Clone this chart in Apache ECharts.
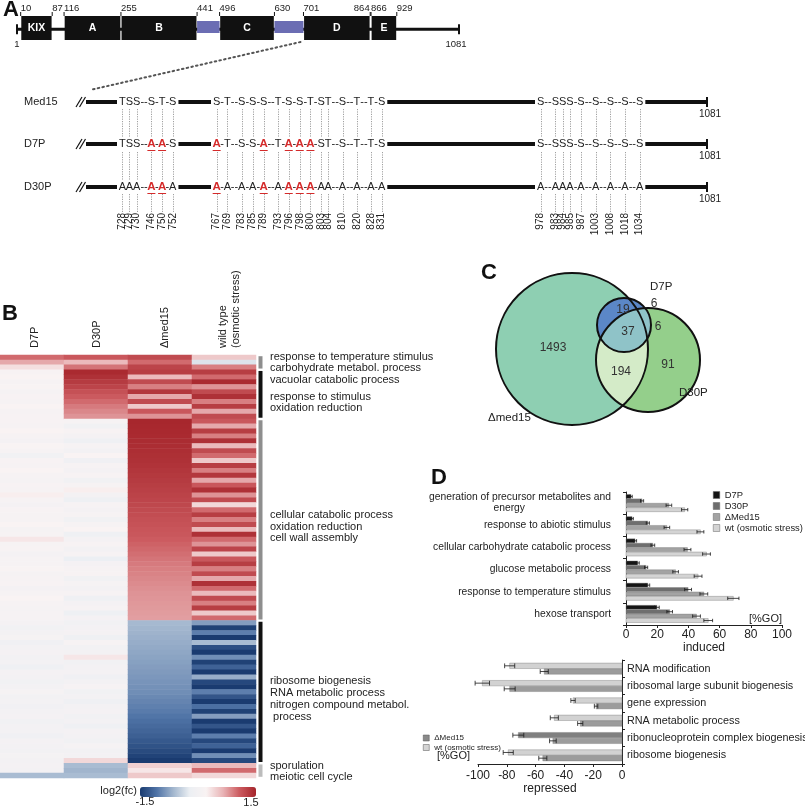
<!DOCTYPE html>
<html>
<head>
<meta charset="utf-8">
<script src="https://cdn.jsdelivr.net/npm/echarts@6/dist/echarts.min.js"></script>
<style>
html,body{margin:0;padding:0;background:#ffffff;}
#chart{width:805px;height:807px;}
</style>
</head>
<body>
<div id="chart"></div>
<script>
// ================= DATA =================
// Panel A: Med15 domain map
const proteinLength = 1081;
const domainNames    = ['KIX', 'A', 'B', '', 'C', '', 'D', 'E'];
const domainStart    = [10, 116, 255, 441, 496, 630, 701, 866];
const domainEnd      = [87, 255, 441, 496, 630, 701, 864, 929];
const domainIsLinker = [0, 0, 0, 1, 0, 1, 0, 0];
const boundaryTicks  = [10, 87, 116, 255, 441, 496, 630, 701, 864, 866, 929];
const zoomedDomainStart = 701;

// Panel A: phosphosite sequences
const seqRowNames = ['Med15', 'D7P', 'D30P'];
const seqMed15 = ['TSS--S-T-S', 'S-T--S-S-S--T-S-S-T-ST--S--T--T-S', 'S--SSS-S--S--S--S--S'];
const seqD7P   = ['TSS--A-A-S', 'A-T--S-S-A--T-A-A-A-ST--S--T--T-S', 'S--SSS-S--S--S--S--S'];
const seqD30P  = ['AAA--A-A-A', 'A-A--A-A-A--A-A-A-A-AA--A--A--A-A', 'A--AAA-A--A--A--A--A'];
const siteNumbers = [
  [728, 729, 730, 746, 750, 752],
  [767, 769, 783, 785, 789, 793, 796, 798, 800, 803, 804, 810, 820, 828, 831],
  [978, 983, 984, 985, 987, 1003, 1008, 1018, 1034]
];
const highlightedSites = [746, 750, 767, 789, 796, 798, 800];

// Panel B: heatmap (rows top -> bottom), log2 fold change
const heatColumns = ['D7P', 'D30P', 'Δmed15', 'wild type (osmotic stress)'];
const heatD7P = [
  1.0, 0.7, 0.35,
  0.15, 0.2, 0.1, 0.18, 0.08, 0.15, 0.12, 0.2, 0.1, 0.15,
  0.15, 0.1, 0.2, 0.12, 0.05, 0.18, 0.1, -0.05, 0.15, 0.1,
  0.2, 0.12, 0.08, 0.15, 0.1, 0.25, 0.1, 0.05, 0.15, 0.12,
  0.1, 0.2, 0.08, 0.12, 0.3, 0.1, 0.15, 0.05, 0.12, 0.1,
  0.18, 0.08, 0.1, 0.15, 0.05, 0.1, 0.2, 0.1, 0.08, 0.12,
  0.1,
  0.05, -0.05, 0.0, 0.08, -0.08, 0.02, 0.05, -0.03, 0.0, -0.1,
  0.05, 0.02, -0.05, 0.0, 0.08, -0.02, 0.03, -0.06, 0.0, 0.05,
  -0.04, 0.02, 0.0, -0.08, 0.05, 0.0, -0.03, 0.06, 0.0,
  0.05, 0.0, -0.6
];
const heatD30P = [
  1.1, 0.6, 0.95,
  1.45, 1.4, 1.32, 1.25, 1.15, 1.08, 1.0, 0.92, 0.86, 0.8,
  0.1, -0.05, 0.15, 0.05, -0.1, 0.12, 0.0, 0.2, -0.08, 0.1,
  0.05, 0.15, -0.05, 0.1, 0.25, 0.0, -0.15, 0.1, 0.05, 0.12,
  -0.05, 0.1, 0.2, -0.1, 0.05, 0.15, 0.0, 0.1, -0.2, 0.05,
  0.1, 0.15, -0.05, 0.08, 0.0, 0.12, -0.1, 0.05, 0.1, -0.15,
  0.05,
  -0.05, 0.0, 0.05, -0.1, 0.1, -0.03, 0.0, 0.3, -0.05, 0.02,
  0.05, -0.08, 0.0, 0.1, -0.05, 0.03, -0.1, 0.0, 0.05, -0.05,
  0.02, -0.1, 0.05, 0.0, -0.05, 0.08, -0.03, 0.0, 0.4,
  -0.6, -0.65, -0.6
];
const heatMed15 = [
  1.2, 1.0, 1.25,
  1.3, 0.6, 1.2, 0.9, 1.35, 0.7, 1.2, 0.5, 1.1, 0.8,
  1.48, 1.47, 1.46, 1.45, 1.44, 1.43, 1.42, 1.41, 1.40, 1.38,
  1.36, 1.34, 1.32, 1.30, 1.28, 1.26, 1.24, 1.22, 1.20, 1.18,
  1.16, 1.14, 1.12, 1.10, 1.07, 1.04, 1.01, 0.98, 0.95, 0.92,
  0.90, 0.88, 0.86, 0.84, 0.82, 0.80, 0.79, 0.78, 0.77, 0.76,
  0.75,
  -0.62, -0.64, -0.66, -0.68, -0.7, -0.72, -0.74, -0.76, -0.78, -0.8,
  -0.82, -0.84, -0.86, -0.88, -0.9, -0.93, -0.96, -0.99, -1.02, -1.06,
  -1.1, -1.14, -1.18, -1.22, -1.27, -1.32, -1.38, -1.44, -1.5,
  0.45, 0.3, 0.5
];
const heatWT = [
  0.5, -0.3, 0.9,
  1.3, 1.0, 1.45, 0.8, 1.2, 1.4, 0.9, 1.3, 0.7, 1.2,
  1.1, 0.7, 1.3, 0.9, 1.4, 0.6, 1.2, 1.0, 0.5, 1.3,
  0.9, 1.35, 0.7, 1.1, 1.4, 0.8, 1.2, 0.4, 1.0, 1.3,
  0.9, 1.2, 0.6, 1.4, 1.0, 0.8, 1.25, 0.5, 1.1, 1.3,
  0.9, 1.2, 0.7, 1.4, 1.0, 0.6, 1.2, 0.9, 1.3, 0.5,
  1.0,
  -0.8, -1.45, -1.0, -1.5, -0.6, -1.35, -1.5, -0.9, -1.45, -1.2,
  -1.5, -0.7, -1.4, -1.5, -1.0, -1.3, -1.5, -1.1, -1.45, -0.8,
  -1.5, -1.3, -1.5, -1.0, -1.4, -1.2, -1.5, -0.9, -1.4,
  0.6, 1.0, 0.4
];
const clusterSizes = [3, 10, 41, 29, 3];
const clusterTerms = [
  ['response to temperature stimulus'],
  ['carbohydrate metabol. process', 'vacuolar catabolic process', 'response to stimulus', 'oxidation reduction'],
  ['cellular catabolic process', 'oxidation reduction', 'cell wall assembly'],
  ['ribosome biogenesis', 'RNA metabolic process', 'nitrogen compound metabol.', ' process'],
  ['sporulation', 'meiotic cell cycle']
];
const colorScaleMin = -1.5, colorScaleMax = 1.5;

// Panel C: Venn counts
const vennSetNames = ['Δmed15', 'D7P', 'D30P'];
const vennCounts = {med15Only: 1493, d7pMed15: 19, all3: 37, d7pOnly: 6, d7pD30p: 6, d30pMed15: 194, d30pOnly: 91};

// Panel D: GO enrichment (%GO)
const inducedCategories = ['generation of precursor metabolites and energy', 'response to abiotic stimulus',
  'cellular carbohydrate catabolic process', 'glucose metabolic process', 'response to temperature stimulus', 'hexose transport'];
const inducedD7P      = [3.2, 3.9, 5.8, 7.5, 14.0, 19.8];
const inducedD7PErr   = [0.8, 0.8, 1.0, 1.0, 1.2, 1.5];
const inducedD30P     = [10.3, 14.0, 17.2, 12.9, 39.8, 28.0];
const inducedD30PErr  = [1.0, 1.0, 1.2, 1.0, 2.2, 1.8];
const inducedMed15    = [27.5, 26.2, 39.4, 31.8, 49.9, 45.2];
const inducedMed15Err = [1.8, 1.8, 2.2, 1.8, 2.5, 2.5];
const inducedWT       = [37.6, 47.7, 51.6, 46.2, 68.8, 52.7];
const inducedWTErr    = [2.0, 2.2, 2.5, 2.5, 3.6, 2.8];

const repressedCategories = ['RNA modification', 'ribosomal large subunit biogenesis', 'gene expression',
  'RNA metabolic process', 'ribonucleoprotein complex biogenesis', 'ribosome biogenesis'];
const repressedWT       = [-78, -97, -34, -47, -72, -79];
const repressedWTErr    = [3.5, 5.0, 1.5, 2.8, 3.8, 3.5];
const repressedMed15    = [-54, -78, -18, -29, -48, -55];
const repressedMed15Err = [2.8, 3.8, 1.2, 1.8, 2.3, 2.8];

const xTicksInduced = [0, 100, 20];      // min, max, step
const xTicksRepressed = [-100, 0, 20];

// ================= LAYOUT / STYLE =================
const FONT = '"Liberation Sans", Arial, Helvetica, sans-serif';
const INK = '#222222';
const chart = echarts.init(document.getElementById('chart'), null, {renderer: 'canvas', width: 805, height: 807});

function T(text, x, y, o) {
  o = o || {};
  return {type: 'text', x: x, y: y, rotation: o.rotation || 0, z: o.z || 100, silent: true,
    style: {text: text, fill: o.color || INK, fontSize: o.size || 11, fontFamily: FONT,
      fontWeight: o.weight || 'normal', align: o.align || 'left', verticalAlign: o.va || 'middle'}};
}
function L(x1, y1, x2, y2, o) {
  o = o || {};
  return {type: 'line', silent: true, z: o.z || 50, shape: {x1: x1, y1: y1, x2: x2, y2: y2},
    style: {stroke: o.color || '#111', lineWidth: o.w || 1, lineDash: o.dash || null, lineCap: o.cap || 'butt'}};
}

// ---------- heatmap data ----------
const heatCols = [heatD7P, heatD30P, heatMed15, heatWT];
const heatData = [];
heatCols.forEach((col, c) => col.forEach((v, r) => heatData.push([c, r, v])));
const rowLabels = heatD7P.map((_, i) => String(i));
const clusterData = [];
{ let s = 0; clusterSizes.forEach((n, i) => { clusterData.push([s, s + n - 1, i]); s += n; }); }
const clusterColors = ['#8e8e8e', '#111111', '#8e8e8e', '#111111', '#bcbcbc'];

// ---------- custom bar series ----------
function barSeries(name, gi, vals, errs, offset, h, color, colorAt) {
  return {
    type: 'custom', name: name, xAxisIndex: gi, yAxisIndex: gi, z: 5, silent: true,
    itemStyle: {color: color},
    encode: {x: 0, y: 1},
    data: vals.map((v, i) => [v, i, errs[i]]),
    renderItem: function (params, api) {
      const v = api.value(0), c = api.value(1), e = api.value(2);
      const p0 = api.coord([0, c]), p1 = api.coord([v, c]);
      const y = p0[1] + offset;
      const l = api.coord([v - e, c])[0], r = api.coord([v + e, c])[0];
      const fill = (colorAt && colorAt[c]) || color;
      const st = {stroke: '#1a1a1a', lineWidth: 0.8};
      return {type: 'group', children: [
        {type: 'rect', shape: {x: Math.min(p0[0], p1[0]), y: y - h / 2, width: Math.abs(p1[0] - p0[0]), height: h},
          style: {fill: fill, stroke: '#7a7a7a', lineWidth: 0.4}},
        {type: 'line', shape: {x1: l, y1: y, x2: r, y2: y}, style: st},
        {type: 'line', shape: {x1: l, y1: y - h / 2 + 0.3, x2: l, y2: y + h / 2 - 0.3}, style: st},
        {type: 'line', shape: {x1: r, y1: y - h / 2 + 0.3, x2: r, y2: y + h / 2 - 0.3}, style: st}
      ]};
    }
  };
}
const upOff = [-6.6, -2.2, 2.2, 6.6], upH = 4.0;
const dnOff = [-2.85, 2.85], dnH = 5.4;
const colD7P = '#151515', colD30P = '#6e6e6e', colMed15 = '#a3a3a3', colWT = '#d4d4d4';
const repressedWTColorAt = [null, null, null, null, '#808080', null];

const axisLineStyle = {color: INK, width: 1};

const option = {
  animation: false,
  backgroundColor: '#ffffff',
  textStyle: {fontFamily: FONT},
  grid: [
    {left: 17, top: 16, width: 442, height: 24, outerBoundsMode: 'none', containLabel: false},
    {left: 0, top: 355, width: 256, height: 423, outerBoundsMode: 'none', containLabel: false},
    {left: 626, top: 492, width: 156, height: 133, outerBoundsMode: 'none', containLabel: false},
    {left: 478, top: 660, width: 144, height: 104, outerBoundsMode: 'none', containLabel: false}
  ],
  xAxis: [
    {type: 'value', gridIndex: 0, min: 1, max: proteinLength, show: false},
    {type: 'category', gridIndex: 1, data: heatColumns, show: false},
    {type: 'value', gridIndex: 2, min: xTicksInduced[0], max: xTicksInduced[1], interval: xTicksInduced[2],
      axisLine: {show: true, lineStyle: axisLineStyle}, axisTick: {show: true, length: 3, lineStyle: axisLineStyle},
      splitLine: {show: false}, axisLabel: {fontSize: 12, color: INK, margin: 4, fontFamily: FONT},
      name: 'induced', nameLocation: 'middle', nameGap: 16, nameTextStyle: {fontSize: 12, color: INK, fontFamily: FONT}},
    {type: 'value', gridIndex: 3, min: xTicksRepressed[0], max: xTicksRepressed[1], interval: xTicksRepressed[2],
      axisLine: {show: true, lineStyle: axisLineStyle}, axisTick: {show: true, length: 3, lineStyle: axisLineStyle},
      splitLine: {show: false}, axisLabel: {fontSize: 12, color: INK, margin: 6, fontFamily: FONT},
      name: 'repressed', nameLocation: 'middle', nameGap: 17, nameTextStyle: {fontSize: 12, color: INK, fontFamily: FONT}}
  ],
  yAxis: [
    {type: 'value', gridIndex: 0, min: 0, max: 1, show: false},
    {type: 'category', gridIndex: 1, data: rowLabels, inverse: true, show: false},
    {type: 'category', gridIndex: 2, data: inducedCategories, inverse: true,
      axisLine: {show: true, lineStyle: axisLineStyle}, axisTick: {show: true, length: 3, lineStyle: axisLineStyle},
      splitLine: {show: false},
      axisLabel: {interval: 0, fontSize: 10.3, color: INK, margin: 15, lineHeight: 11, fontFamily: FONT,
        formatter: function (v, i) { return i === 0 ? '{a|generation of precursor metabolites and}\n{b|energy}' : v; },
        rich: {a: {fontSize: 10.3, color: INK, lineHeight: 11, fontFamily: FONT},
               b: {fontSize: 10.3, color: INK, lineHeight: 11, fontFamily: FONT, padding: [0, 86, 0, 0]}}}},
    {type: 'category', gridIndex: 3, data: repressedCategories, inverse: true, position: 'right',
      axisLine: {show: true, lineStyle: axisLineStyle}, axisTick: {show: true, length: 3, lineStyle: axisLineStyle},
      splitLine: {show: false},
      axisLabel: {interval: 0, fontSize: 10.8, color: INK, margin: 5, fontFamily: FONT}}
  ],
  visualMap: {
    type: 'continuous', min: colorScaleMin, max: colorScaleMax, seriesIndex: 3, orient: 'horizontal',
    left: 140, top: 787, itemWidth: 10, itemHeight: 116, calculable: false, padding: 0, text: null,
    inRange: {color: ['#1a3b70', '#4f73a6', '#a2b6ce', '#eceff3', '#f9f3f3', '#e9b4b6', '#cc5b60', '#a5242a']}
  },
  legend: [
    {data: ['D7P', 'D30P', 'ΔMed15', 'wt (osmotic stress)'], orient: 'vertical', left: 713, top: 490, padding: 0,
      itemWidth: 6.5, itemHeight: 7, itemGap: 1, icon: 'rect', selectedMode: false,
      itemStyle: {borderColor: '#666', borderWidth: 0.5},
      textStyle: {fontSize: 9.4, color: INK, lineHeight: 10, fontFamily: FONT}},
    {data: [{name: 'ΔMed15', itemStyle: {color: '#8a8a8a', borderColor: '#555', borderWidth: 0.5}},
            {name: 'wt (osmotic stress)', itemStyle: {color: '#d4d4d4', borderColor: '#555', borderWidth: 0.5}}],
      orient: 'vertical', left: 423, top: 734, padding: 0, itemWidth: 6, itemHeight: 6, itemGap: 1.5, icon: 'rect',
      selectedMode: false, textStyle: {fontSize: 8, color: INK, lineHeight: 7, fontFamily: FONT}}
  ],
  series: [
    // 0: backbone
    {type: 'custom', xAxisIndex: 0, yAxisIndex: 0, silent: true, z: 1, data: [[1, proteinLength]],
      renderItem: function (params, api) {
        const a = api.coord([api.value(0), 0.45]), b = api.coord([api.value(1), 0.45]);
        return {type: 'group', children: [
          {type: 'rect', shape: {x: a[0], y: a[1] - 1.5, width: b[0] - a[0], height: 3}, style: {fill: '#111'}},
          {type: 'line', shape: {x1: a[0], y1: a[1] - 5, x2: a[0], y2: a[1] + 5}, style: {stroke: '#111', lineWidth: 2}},
          {type: 'line', shape: {x1: b[0], y1: a[1] - 5, x2: b[0], y2: a[1] + 5}, style: {stroke: '#111', lineWidth: 2}},
          {type: 'text', x: a[0], y: a[1] + 15, style: {text: String(api.value(0)), fill: INK, fontSize: 9.5, fontFamily: FONT, align: 'center', verticalAlign: 'middle'}},
          {type: 'text', x: b[0] - 3, y: a[1] + 15, style: {text: String(api.value(1)), fill: INK, fontSize: 9.5, fontFamily: FONT, align: 'center', verticalAlign: 'middle'}}
        ]};
      }},
    // 1: domains
    {type: 'custom', xAxisIndex: 0, yAxisIndex: 0, silent: true, z: 2,
      data: domainStart.map((s, i) => [s, domainEnd[i], domainIsLinker[i], i]),
      renderItem: function (params, api) {
        const s = api.value(0), e = api.value(1), linker = api.value(2), idx = api.value(3);
        const a = api.coord([s, 1]), b = api.coord([e, 0]);
        const top = a[1], bot = b[1];
        if (linker) {
          const hh = (bot - top) * 0.5;
          return {type: 'rect', shape: {x: a[0], y: (top + bot) / 2 - hh / 2 - 1, width: b[0] - a[0], height: hh}, style: {fill: '#6b6db3'}};
        }
        return {type: 'group', children: [
          {type: 'rect', shape: {x: a[0] + 0.6, y: top, width: b[0] - a[0] - 1.2, height: bot - top}, style: {fill: '#111'}},
          {type: 'text', x: (a[0] + b[0]) / 2, y: (top + bot) / 2, style: {text: domainNames[idx], fill: '#fff', fontSize: 10.5, fontWeight: 'bold', fontFamily: FONT, align: 'center', verticalAlign: 'middle'}}
        ]};
      }},
    // 2: boundary numbers
    {type: 'custom', xAxisIndex: 0, yAxisIndex: 0, silent: true, z: 3,
      data: boundaryTicks.map((v, i) => [v, i]),
      renderItem: function (params, api) {
        const v = api.value(0), i = api.value(1);
        const p = api.coord([v, 1]);
        let align = 'left';
        if (i + 1 < boundaryTicks.length && boundaryTicks[i + 1] - v < 6) align = 'right';
        const dx = align === 'right' ? -0.5 : 0;
        return {type: 'group', children: [
          {type: 'line', shape: {x1: p[0], y1: p[1] - 4, x2: p[0], y2: p[1]}, style: {stroke: '#111', lineWidth: 1}},
          {type: 'text', x: p[0] + dx, y: p[1] - 8, style: {text: String(v), fill: INK, fontSize: 9.5, fontFamily: FONT, align: align, verticalAlign: 'middle'}}
        ]};
      }},
    // 3: heatmap
    {type: 'heatmap', xAxisIndex: 1, yAxisIndex: 1, data: heatData, silent: true,
      itemStyle: {borderWidth: 0}, emphasis: {disabled: true}, progressive: 0},
    // 4: cluster bars
    {type: 'custom', xAxisIndex: 1, yAxisIndex: 1, silent: true, z: 3, clip: false,
      data: clusterData,
      renderItem: function (params, api) {
        const s = api.value(0), e = api.value(1), k = api.value(2);
        const a = api.coord([3, s]), b = api.coord([3, e]), sz = api.size([1, 1]);
        const top = a[1] - sz[1] / 2 + 1.2, bot = b[1] + sz[1] / 2 - 1.2;
        return {type: 'rect', shape: {x: a[0] + sz[0] / 2 + 2.5, y: top, width: 4, height: bot - top}, style: {fill: clusterColors[k]}};
      }},
    // 5-8 induced bars
    barSeries('D7P', 2, inducedD7P, inducedD7PErr, upOff[0], upH, colD7P),
    barSeries('D30P', 2, inducedD30P, inducedD30PErr, upOff[1], upH, colD30P),
    barSeries('ΔMed15', 2, inducedMed15, inducedMed15Err, upOff[2], upH, colMed15),
    barSeries('wt (osmotic stress)', 2, inducedWT, inducedWTErr, upOff[3], upH, colWT),
    // 9-10 repressed bars
    barSeries('wt (osmotic stress)', 3, repressedWT, repressedWTErr, dnOff[0], dnH, '#d2d2d2', repressedWTColorAt),
    barSeries('ΔMed15', 3, repressedMed15, repressedMed15Err, dnOff[1], dnH, '#9c9c9c')
  ]
};
chart.setOption(option);

// ================= GRAPHIC LAYER =================
const g = [];
// panel letters
g.push(T('A', 3, 10, {size: 22, weight: 'bold', color: '#111'}));
g.push(T('B', 2, 314, {size: 22, weight: 'bold', color: '#111'}));
g.push(T('C', 481, 273, {size: 22, weight: 'bold', color: '#111'}));
g.push(T('D', 431, 478, {size: 22, weight: 'bold', color: '#111'}));

// ---- Panel A sequences ----
const mctx = document.createElement('canvas').getContext('2d');
const SEQ_SIZE = 11;
mctx.font = SEQ_SIZE + 'px ' + FONT;
const groupStartX = [119, 213, 537];
const rowY = [102, 144, 187];
const lineStartX = 86, lineEndX = 707, numTopY = 213;
const seqRows = [seqMed15, seqD7P, seqD30P];
const groupExt = [], charCenters = [], letterIdx = [];
seqMed15.forEach((s, gi) => {
  let x = groupStartX[gi]; const cs = [], li = [];
  for (let i = 0; i < s.length; i++) {
    const w = mctx.measureText(s[i]).width;
    cs.push(x + w / 2); x += w;
    if (s[i] !== '-') li.push(i);
  }
  groupExt.push([groupStartX[gi], x]); charCenters.push(cs); letterIdx.push(li);
});
seqRowNames.forEach((n, r) => g.push(T(n, 24, rowY[r], {size: 11})));
// thick lines + break marks + ends
rowY.forEach((y) => {
  const segs = [[lineStartX, groupExt[0][0] - 2], [groupExt[0][1] + 2, groupExt[1][0] - 2],
                [groupExt[1][1] + 2, groupExt[2][0] - 2], [groupExt[2][1] + 2, lineEndX]];
  segs.forEach(sg => g.push(L(sg[0], y, sg[1], y, {w: 4, color: '#111'})));
  g.push(L(lineEndX, y - 5, lineEndX, y + 5, {w: 2}));
  g.push(T(String(proteinLength), lineEndX + 3, y + 12, {size: 10, align: 'center'}));
  g.push(L(76, y + 5, 82, y - 5, {w: 1.2}));
  g.push(L(79.5, y + 5, 85.5, y - 5, {w: 1.2}));
});
// letters
seqRows.forEach((rowSeq, r) => {
  rowSeq.forEach((s, gi) => {
    let li = 0;
    for (let i = 0; i < s.length; i++) {
      const ch = s[i], x = charCenters[gi][i];
      if (ch === '-') { g.push(T('-', x, rowY[r], {size: SEQ_SIZE, align: 'center'})); continue; }
      const site = siteNumbers[gi][li]; li++;
      const hl = r > 0 && highlightedSites.indexOf(site) >= 0;
      if (hl) {
        g.push(T(ch, x, rowY[r], {size: SEQ_SIZE + 0.5, align: 'center', color: '#d42a2a', weight: 'bold'}));
        g.push(L(x - 4, rowY[r] + 6.5, x + 4, rowY[r] + 6.5, {color: '#d42a2a', w: 1}));
      } else {
        g.push(T(ch, x, rowY[r], {size: SEQ_SIZE, align: 'center'}));
      }
    }
  });
});
// dotted connectors + residue numbers
letterIdx.forEach((li, gi) => {
  li.forEach((ci, k) => {
    const x = Math.round(charCenters[gi][ci]) + 0.5;
    const dot = {color: '#777', w: 0.7, dash: [1.2, 1.2], z: 40};
    g.push(L(x, rowY[0] + 7, x, rowY[1] - 7, dot));
    g.push(L(x, rowY[1] + 8, x, rowY[2] - 7, dot));
    g.push(L(x, rowY[2] + 7, x, numTopY - 1, dot));
    g.push(T(String(siteNumbers[gi][k]), charCenters[gi][ci], numTopY, {size: 10, rotation: Math.PI / 2, align: 'right'}));
  });
});
// dotted zoom line from domain D to sequence rows
const dX = chart.convertToPixel({xAxisIndex: 0}, zoomedDomainStart);
g.push(L(dX - 3, 42, 90, 90, {color: '#555', w: 2, dash: [1.6, 3.2], cap: 'round'}));

// ---- Panel B labels ----
const heatHeaderX = [35, 97, 165];
g.push(T(heatColumns[0], heatHeaderX[0], 348, {rotation: Math.PI / 2}));
g.push(T(heatColumns[1], heatHeaderX[1], 348, {rotation: Math.PI / 2}));
g.push(T(heatColumns[2], heatHeaderX[2], 348, {rotation: Math.PI / 2}));
g.push(T('wild type', 223, 348, {rotation: Math.PI / 2}));
g.push(T('(osmotic stress)', 236, 348, {rotation: Math.PI / 2}));
const clusterLabelY = [[357], [368, 380, 397, 408], [515, 527, 538], [681, 693, 705, 717], [766, 777]];
clusterTerms.forEach((terms, k) => terms.forEach((t, j) => g.push(T(t, 270, clusterLabelY[k][j], {size: 11}))));
g.push(T('log2(fc)', 137, 791, {size: 11, align: 'right'}));
g.push(T(String(colorScaleMin), 145, 802, {size: 11, align: 'center'}));
g.push(T(String(colorScaleMax), 251, 803, {size: 11, align: 'center'}));

// ---- Panel C Venn ----
const vBig = {cx: 572, cy: 349, r: 76}, vD30 = {cx: 648, cy: 360, r: 52}, vD7 = {cx: 624, cy: 325, r: 27};
function lens(A, B, n) {
  n = n || 60;
  const dx = B.cx - A.cx, dy = B.cy - A.cy, d = Math.hypot(dx, dy), th = Math.atan2(dy, dx);
  const a1 = Math.acos((d * d + A.r * A.r - B.r * B.r) / (2 * d * A.r));
  const a2 = Math.acos((d * d + B.r * B.r - A.r * A.r) / (2 * d * B.r));
  const pts = [];
  for (let i = 0; i <= n; i++) { const t = th - a1 + 2 * a1 * i / n; pts.push([A.cx + A.r * Math.cos(t), A.cy + A.r * Math.sin(t)]); }
  for (let i = 0; i <= n; i++) { const t = th + Math.PI - a2 + 2 * a2 * i / n; pts.push([B.cx + B.r * Math.cos(t), B.cy + B.r * Math.sin(t)]); }
  return pts;
}
function circ(c, fill, z) { return {type: 'circle', silent: true, z: z, shape: {cx: c.cx, cy: c.cy, r: c.r}, style: {fill: fill, stroke: null}}; }
function ring(c, z) { return {type: 'circle', silent: true, z: z, shape: {cx: c.cx, cy: c.cy, r: c.r}, style: {fill: null, stroke: '#111', lineWidth: 2}}; }
g.push(circ(vBig, '#8ecfb2', 10));
g.push(circ(vD30, '#94cf8b', 11));
g.push({type: 'polygon', silent: true, z: 12, shape: {points: lens(vBig, vD30)}, style: {fill: '#d4ebc8'}});
g.push(circ(vD7, '#5b87c7', 13));
g.push({type: 'polygon', silent: true, z: 14, shape: {points: lens(vD7, vD30)}, style: {fill: '#8fc3c8'}});
g.push(ring(vBig, 15)); g.push(ring(vD30, 15)); g.push(ring(vD7, 15));
const vc = '#333';
g.push(T(String(vennCounts.med15Only), 553, 348, {size: 12, align: 'center', color: vc}));
g.push(T(String(vennCounts.d7pMed15), 623, 310, {size: 12, align: 'center', color: vc}));
g.push(T(String(vennCounts.all3), 628, 332, {size: 12, align: 'center', color: vc}));
g.push(T(String(vennCounts.d7pOnly), 654, 304, {size: 12, align: 'center', color: vc}));
g.push(T(String(vennCounts.d7pD30p), 658, 327, {size: 12, align: 'center', color: vc}));
g.push(T(String(vennCounts.d30pMed15), 621, 372, {size: 12, align: 'center', color: vc}));
g.push(T(String(vennCounts.d30pOnly), 668, 365, {size: 12, align: 'center', color: vc}));
g.push(T(vennSetNames[1], 650, 287, {size: 11.5}));
g.push(T(vennSetNames[2], 679, 393, {size: 11.5}));
g.push(T(vennSetNames[0], 488, 418, {size: 11.5}));

// ---- Panel D extras ----
g.push(T('[%GO]', 782, 619, {size: 11, align: 'right'}));
g.push(T('[%GO]', 437, 756, {size: 11}));

chart.setOption({graphic: {elements: g}});
</script>
</body>
</html>
